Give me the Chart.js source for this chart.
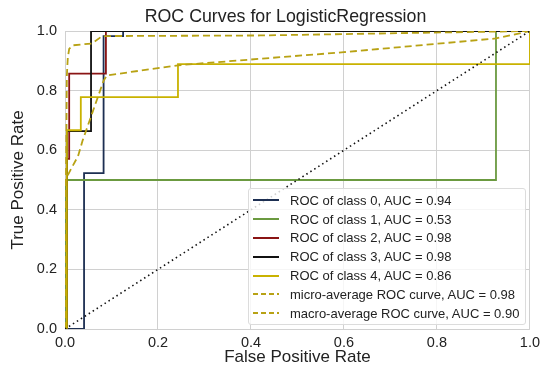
<!DOCTYPE html>
<html>
<head>
<meta charset="utf-8">
<script src="https://cdn.jsdelivr.net/npm/chart.js@4/dist/chart.umd.min.js"></script>
<style>
  html, body { margin: 0; padding: 0; background: #fff; }
  #wrap { position: relative; width: 545px; height: 373px; }
  #roc { display: block; }
  #title {
    position: absolute; left: 0; top: 6px; width: 571px; text-align: center;
    font: 17.8px "Liberation Sans", Arial, sans-serif; color: #222; white-space: nowrap;
  }
  #legend {
    position: absolute; box-sizing: border-box;
    background: rgba(255,255,255,0.8);
    border: 1px solid #dcdcdc; border-radius: 3px;
    font: 13px "Liberation Sans", Arial, sans-serif; color: #222;
    padding: 2px 0 0 0;
  }
  #legend .row { display: flex; align-items: center; height: 18.8px; white-space: nowrap; }
  #legend .swatch { width: 26px; height: 2px; margin: 0 11px 0 4px; flex: none; }
</style>
</head>
<body>
<div id="wrap">
  <canvas id="roc" width="545" height="373"></canvas>
  <div id="title">ROC Curves for LogisticRegression</div>
  <div id="legend"></div>
</div>
<script>
// ── ROC curves, one per class plus micro / macro averages ──────────────
// Each curve is a list of (fpr, tpr) corner points read off the scorer.

const class0Fpr = [0, 0.041, 0.041, 0.083, 0.083, 0.125, 0.125, 1];
const class0Tpr = [0, 0, 0.523, 0.523, 0.983, 0.983, 1, 1];

const class1Fpr = [0, 0, 0.927, 0.927, 1];
const class1Tpr = [0, 0.5, 0.5, 1, 1];

const class2Fpr = [0, 0.004, 0.004, 0.009, 0.009, 0.088, 0.088, 1];
const class2Tpr = [0, 0, 0.571, 0.571, 0.857, 0.857, 1, 1];

const class3Fpr = [0, 0.004, 0.004, 0.056, 0.056, 1];
const class3Tpr = [0, 0, 0.664, 0.664, 1, 1];

const class4Fpr = [0, 0.004, 0.004, 0.034, 0.034, 0.243, 0.243, 1, 1];
const class4Tpr = [0, 0, 0.667, 0.667, 0.778, 0.778, 0.889, 0.889, 1];

const microFpr = [0, 0.001, 0.003, 0.004, 0.006, 0.009, 0.017, 0.058, 0.080, 0.420, 1];
const microTpr = [0, 0.35, 0.65, 0.85, 0.91, 0.94, 0.952, 0.958, 0.983, 0.985, 1];

const macroFpr = [0, 0.002, 0.004, 0.014, 0.028, 0.038, 0.083, 0.090, 0.243, 0.600, 0.927, 1];
const macroTpr = [0, 0.50, 0.51, 0.54, 0.58, 0.633, 0.833, 0.851, 0.885, 0.929, 0.975, 1];

const aucLabels = [
  'ROC of class 0, AUC = 0.94',
  'ROC of class 1, AUC = 0.53',
  'ROC of class 2, AUC = 0.98',
  'ROC of class 3, AUC = 0.98',
  'ROC of class 4, AUC = 0.86',
  'micro-average ROC curve, AUC = 0.98',
  'macro-average ROC curve, AUC = 0.90',
];

const axisTicks = [0, 0.2, 0.4, 0.6, 0.8, 1.0];

const FONT = '"Liberation Sans", Arial, sans-serif';
const toPts = (xs, ys) => xs.map((x, i) => ({ x, y: ys[i] }));

const curves = [
  { fpr: class0Fpr, tpr: class0Tpr, color: '#1d2f52', dash: [] },
  { fpr: class1Fpr, tpr: class1Tpr, color: '#6b9a40', dash: [] },
  { fpr: class2Fpr, tpr: class2Tpr, color: '#8a1414', dash: [] },
  { fpr: class3Fpr, tpr: class3Tpr, color: '#111111', dash: [] },
  { fpr: class4Fpr, tpr: class4Tpr, color: '#c9b200', dash: [] },
  { fpr: microFpr,  tpr: microTpr,  color: '#b8a214', dash: [7, 4] },
  { fpr: macroFpr,  tpr: macroTpr,  color: '#b8a214', dash: [7, 4] },
];

const datasets = curves.map((c, i) => ({
  label: aucLabels[i],
  data: toPts(c.fpr, c.tpr),
  borderColor: c.color,
  borderDash: c.dash,
  borderWidth: 1.8,
  showLine: true,
  pointRadius: 0,
  tension: 0,
  fill: false,
}));

// chance line
datasets.push({
  label: 'chance',
  data: toPts([0, 1], [0, 1]),
  borderColor: '#111',
  borderDash: [1.5, 3.2],
  borderWidth: 1.6,
  showLine: true,
  pointRadius: 0,
});

// later datasets paint over earlier ones
datasets.forEach((d, i) => { d.order = datasets.length - i; });

const chart = new Chart(document.getElementById('roc'), {
  type: 'scatter',
  data: { datasets },
  options: {
    responsive: false,
    animation: false,
    events: [],
    layout: { padding: { top: 31, right: 15 } },
    plugins: {
      legend: { display: false },
      tooltip: { enabled: false },
    },
    scales: {
      x: {
        type: 'linear', min: 0, max: 1,
        afterFit: s => { s.height = 44; },
        afterBuildTicks: s => { s.ticks = axisTicks.map(v => ({ value: v })); },
        ticks: {
          padding: 5, color: '#222', maxRotation: 0,
          font: { family: FONT, size: 14.5 },
          callback: v => v.toFixed(1),
        },
        grid: { color: '#d0d0d0', lineWidth: 1, drawTicks: false },
        border: { display: false },
        title: {
          display: true, text: 'False Positive Rate', color: '#222',
          font: { family: FONT, size: 17 },
          padding: { top: 0, bottom: 5 },
        },
      },
      y: {
        type: 'linear', min: 0, max: 1,
        afterFit: s => { s.width = 65; },
        afterBuildTicks: s => { s.ticks = axisTicks.map(v => ({ value: v })); },
        ticks: {
          padding: 8, color: '#222',
          font: { family: FONT, size: 14.5 },
          callback: v => v.toFixed(1),
        },
        grid: { color: '#d0d0d0', lineWidth: 1, drawTicks: false },
        border: { display: false },
        title: {
          display: true, text: 'True Positive Rate', color: '#222',
          font: { family: FONT, size: 17 },
          padding: { top: 8, bottom: 0 },
        },
      },
    },
  },
});

// Legend box sits in the lower-right corner of the plot area
const legend = document.getElementById('legend');
const area = chart.chartArea;
legend.style.left = '248px';
legend.style.top = '188px';
legend.style.width = (area.right - 4 - 248) + 'px';
legend.style.height = (area.bottom - 4 - 188) + 'px';
curves.forEach((c, i) => {
  const row = document.createElement('div');
  row.className = 'row';
  const sw = document.createElement('span');
  sw.className = 'swatch';
  sw.style.background = c.dash.length
    ? `repeating-linear-gradient(to right, ${c.color} 0 5px, transparent 5px 8px)`
    : c.color;
  const txt = document.createElement('span');
  txt.textContent = aucLabels[i];
  row.append(sw, txt);
  legend.appendChild(row);
});
</script>
</body>
</html>
